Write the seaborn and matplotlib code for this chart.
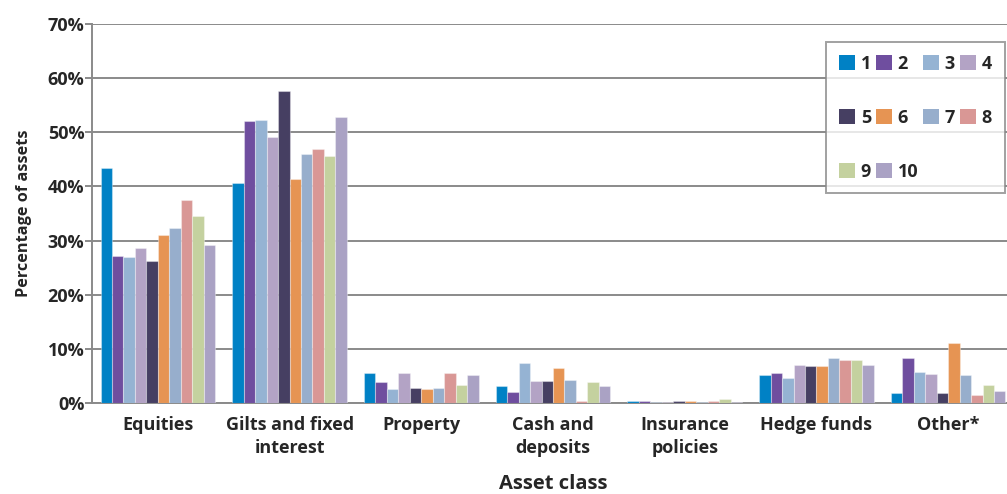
import numpy as np
import pandas as pd
import matplotlib
matplotlib.use("Agg")
import matplotlib.pyplot as plt
import seaborn as sns
from matplotlib.patches import Patch

# Asset allocation by scheme (percentage of assets)
asset_classes = ["Equities", "Gilts and fixed\ninterest", "Property", "Cash and\ndeposits",
                 "Insurance\npolicies", "Hedge funds", "Other*"]
schemes = ["1", "2", "3", "4", "5", "6", "7", "8", "9", "10"]

scheme_1 = [43.4, 40.6, 5.5, 3.1, 0.3, 5.1, 1.9]
scheme_2 = [27.2, 52.0, 3.8, 2.1, 0.3, 5.5, 8.4]
scheme_3 = [26.9, 52.2, 2.6, 7.4, 0.2, 4.6, 5.8]
scheme_4 = [28.6, 49.1, 5.5, 4.0, 0.2, 7.0, 5.4]
scheme_5 = [26.2, 57.7, 2.8, 4.0, 0.3, 6.8, 1.9]
scheme_6 = [31.0, 41.3, 2.6, 6.5, 0.3, 6.8, 11.1]
scheme_7 = [32.4, 45.9, 2.8, 4.3, 0.2, 8.4, 5.1]
scheme_8 = [37.5, 46.9, 5.5, 0.3, 0.3, 7.9, 1.4]
scheme_9 = [34.6, 45.7, 3.3, 3.8, 0.7, 7.9, 3.3]
scheme_10 = [29.1, 52.9, 5.1, 3.1, 0.2, 7.0, 2.2]

series = [scheme_1, scheme_2, scheme_3, scheme_4, scheme_5,
          scheme_6, scheme_7, scheme_8, scheme_9, scheme_10]

palette = ["#0081C5", "#6F4E9F", "#95B3D3", "#B3A3C5", "#463F62",
           "#E69453", "#97AECC", "#D99795", "#C4D19F", "#AAA2C4"]

rows = []
for name, vals in zip(schemes, series):
    for cat, v in zip(asset_classes, vals):
        rows.append({"Asset class": cat, "Scheme": name, "Value": v})
df = pd.DataFrame(rows)

sns.set_style("white")
plt.rcParams["font.family"] = ["Open Sans", "DejaVu Sans"]
plt.rcParams["font.weight"] = "bold"

W, H = 1007, 494
fig = plt.figure(figsize=(W / 100, H / 100), dpi=100)
left, right, top, bottom = 92, 1014, 24, 403
ax = fig.add_axes([left / W, 1 - bottom / H, (right - left) / W, (bottom - top) / H])

sns.barplot(data=df, x="Asset class", y="Value", hue="Scheme", palette=palette,
            order=asset_classes, hue_order=schemes, width=0.87, gap=0,
            errorbar=None, legend=False, ax=ax, saturation=1,
            edgecolor=(1, 1, 1, 0.35), linewidth=0.8, zorder=3)

ax.set_xlim(-0.5, len(asset_classes) - 0.5)
ax.set_ylim(0, 70)
ax.set_yticks(np.arange(0, 71, 10))
ax.set_yticklabels([f"{t}%" for t in range(0, 71, 10)])
ax.yaxis.grid(True, color="#8a8a8a", linewidth=1.4, zorder=0)
ax.set_axisbelow(True)

# category labels centred, tick marks on group boundaries
ax.set_xticks(range(len(asset_classes)))
ax.set_xticklabels(asset_classes, fontsize=13, fontweight="bold", linespacing=1.4)
ax.tick_params(axis="x", length=0, pad=9)
ax.set_xticks(np.arange(-0.5, len(asset_classes), 1.0), minor=True)
ax.tick_params(axis="x", which="minor", length=6, width=1.4, color="#8a8a8a", direction="out")
ax.tick_params(axis="y", length=5, width=1.4, color="#8a8a8a", direction="out",
               labelsize=13, pad=0.5, left=True)
for lab in ax.get_yticklabels():
    lab.set_fontweight("bold")

for side in ["top", "right"]:
    ax.spines[side].set_visible(False)
for side in ["left", "bottom"]:
    ax.spines[side].set_color("#8a8a8a")
    ax.spines[side].set_linewidth(1.4)

ax.set_ylabel("Percentage of assets", fontsize=11.7, fontweight="bold", labelpad=11)
ax.set_xlabel("Asset class", fontsize=14.5, fontweight="bold", labelpad=12)

# legend laid out row by row: 1-4 / 5-8 / 9-10
order = [0, 4, 8, 1, 5, 9, 2, 6, 3, 7]
handles = [Patch(facecolor=palette[i], edgecolor="none") for i in order]
labels = [schemes[i] for i in order]
leg = ax.legend(handles, labels, ncol=4, loc="upper left",
                bbox_to_anchor=((826 - left) / (right - left), 1 - (42 - top) / (bottom - top)),
                frameon=True, fancybox=False, prop={"weight": "bold", "size": 13},
                handlelength=0.9, handleheight=0.9, handletextpad=0.32,
                columnspacing=0.25, labelspacing=2.0, borderpad=0.7, borderaxespad=0)
leg.get_frame().set_edgecolor("#8a8a8a")
leg.get_frame().set_linewidth(1.4)
leg.set_zorder(5)

fig.savefig("out.png", dpi=100)
